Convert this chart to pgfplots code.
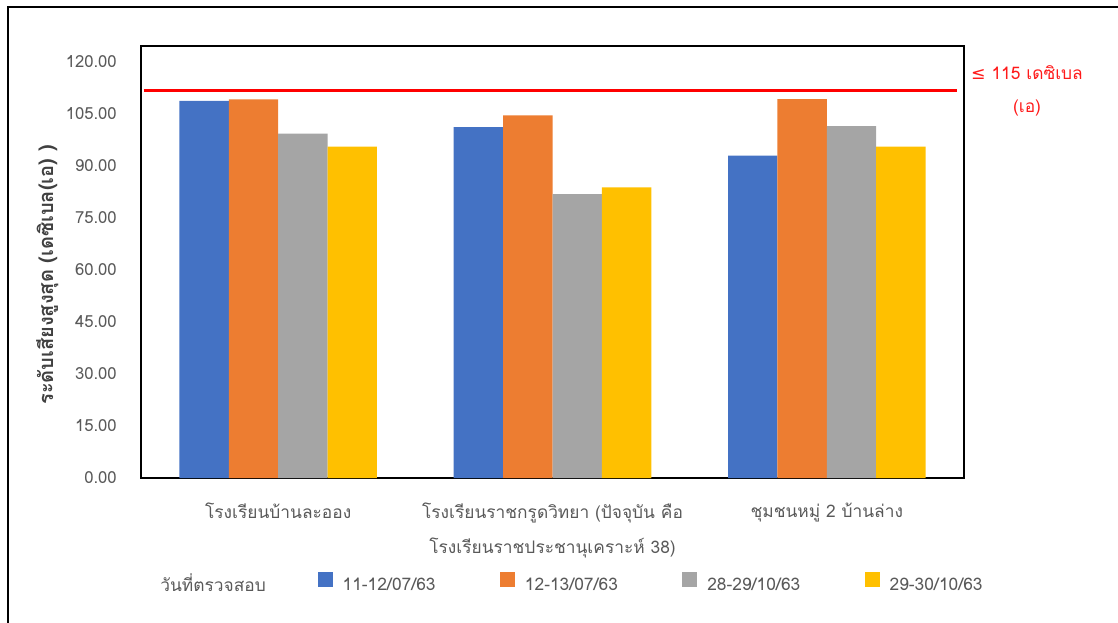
\documentclass[border=0pt]{standalone}
\usepackage{pgfplots}
\pgfplotsset{compat=1.18}
\usepackage{fontspec}
\setmainfont[Script=Thai]{Loma}
\newfontfamily\symfont{DejaVu Sans}

\definecolor{c1}{HTML}{4472C4}
\definecolor{c2}{HTML}{ED7D31}
\definecolor{c3}{HTML}{A5A5A5}
\definecolor{c4}{HTML}{FFC000}
\definecolor{tickgray}{HTML}{595959}
\definecolor{labgray}{HTML}{404040}
\definecolor{limred}{HTML}{FF1A1A}

\pgfplotsset{
  sq legend/.style={legend image code/.code={\fill[##1] (0pt,-1.4pt) rectangle (11.25pt,9.85pt);}},
}

\begin{document}
\begin{tikzpicture}
\useasboundingbox (0,0) rectangle (838.5pt,466.5pt);
% outer chart frame (cut at right and bottom)
\draw[line width=1.6pt] (6pt,-20pt) -- (6pt,461.25pt) -- (860pt,461.25pt);

\begin{axis}[
    at={(105.75pt,108pt)}, anchor=south west,
    width=617.25pt, height=324pt, scale only axis,
    ybar=0pt, bar width=0.18,
    xmin=-0.5, xmax=2.5, ymin=0, ymax=124.6,
    xtick={0,1,2},
    xticklabels={โรงเรียนบ้านละออง, {โรงเรียนราชกรูดวิทยา (ปัจจุบัน คือ\\โรงเรียนราชประชานุเคราะห์ 38)}, ชุมชนหมู่ 2 บ้านล่าง},
    ytick={0,15,...,120},
    major tick length=0pt,
    axis line style={line width=1.5pt},
    clip=false,
    yticklabel style={/pgf/number format/.cd, fixed, fixed zerofill, precision=2, assume math mode=true,
        /tikz/.cd, text=tickgray, font=\fontsize{12.5}{14}\selectfont, inner sep=0pt, xshift=-18pt},
    xticklabel style={align=center, text=tickgray, font=\fontsize{13}{26.25}\selectfont, yshift=-15pt},
    ylabel={ระดับเสียงสูงสุด (เดซิเบล(เอ) )},
    ylabel style={at={(axis description cs:-0.114,0.47)}, anchor=center, font=\bfseries\fontsize{15}{17}\selectfont, text=labgray},
    legend columns=5,
    legend style={at={(axis description cs:0.011,-0.2477)}, anchor=west, draw=none, inner sep=0pt,
        font=\fontsize{13}{15}\selectfont, text=tickgray,
        nodes={inner sep=0pt},
        column sep=7.5pt,
        /tikz/every even column/.append style={column sep=13pt}},
]
\addlegendimage{empty legend}
\addlegendentry{\makebox[105pt][l]{\raisebox{3pt}{วันที่ตรวจสอบ}}}

\addplot[fill=c1, draw=none, sq legend] coordinates {(0,108.8) (1,101.2) (2,93.0)};
\addlegendentry{\makebox[105pt][l]{11-12/07/63}}
\addplot[fill=c2, draw=none, sq legend] coordinates {(0,109.2) (1,104.6) (2,109.3)};
\addlegendentry{\makebox[105pt][l]{12-13/07/63}}
\addplot[fill=c3, draw=none, sq legend] coordinates {(0,99.3) (1,81.9) (2,101.5)};
\addlegendentry{\makebox[105pt][l]{28-29/10/63}}
\addplot[fill=c4, draw=none, sq legend] coordinates {(0,95.6) (1,83.8) (2,95.6)};
\addlegendentry{\makebox[105pt][l]{29-30/10/63}}

% limit line
\addplot[sharp plot, forget plot, draw=red, line width=2.25pt] coordinates {(-0.49,111.8) (2.475,111.8)};

\node[text=limred, align=center, font=\fontsize{13}{24.75}\selectfont, anchor=center]
  at (axis description cs:1.0766,0.897) {{\symfont ≤} 115 เดซิเบล\\(เอ)};
\end{axis}
\end{tikzpicture}
\end{document}
